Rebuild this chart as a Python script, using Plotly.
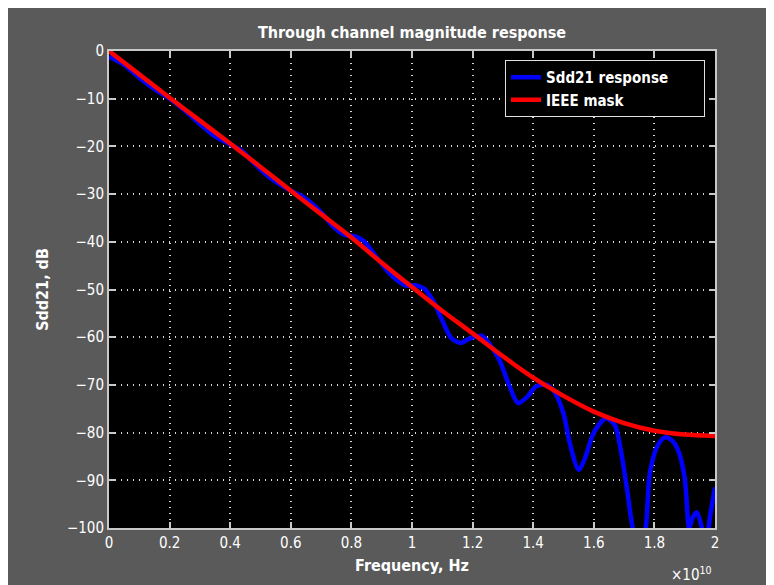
import plotly.graph_objects as go

# Frequency in units of 1e10 Hz
mask_f = [0.0, 0.1, 0.2, 0.3, 0.4, 0.5, 0.6, 0.7, 0.8, 0.9, 1.0, 1.1, 1.2, 1.3, 1.4, 1.5, 1.6, 1.7, 1.8, 1.9, 2.0]
mask_db = [0.0, -4.9, -9.8, -14.6, -19.4, -24.3, -29.3, -34.2, -39.1, -44.4, -49.5, -54.5, -59.2, -64.0, -68.5, -72.3, -75.6, -78.0, -79.6, -80.4, -80.7]

resp_f = [0.00, 0.05, 0.10, 0.15, 0.20, 0.25, 0.30, 0.35, 0.40, 0.44, 0.48, 0.52, 0.56, 0.60, 0.63,
          0.66, 0.70, 0.74, 0.78, 0.81, 0.84, 0.88, 0.92, 0.95, 0.98, 1.01, 1.04, 1.07, 1.10, 1.13,
          1.16, 1.19, 1.23, 1.26, 1.29, 1.32, 1.35, 1.38, 1.41, 1.445, 1.47, 1.50, 1.52, 1.55, 1.57,
          1.60, 1.64, 1.67, 1.69, 1.71, 1.73, 1.75, 1.77, 1.785, 1.81, 1.835, 1.86, 1.88, 1.90, 1.915,
          1.925, 1.94, 1.955, 1.97, 1.985, 2.00]
resp_db = [-1.2, -2.9, -5.6, -8.0, -10.0, -12.5, -15.3, -17.9, -19.6, -21.0, -23.6, -26.0, -27.8, -29.3, -30.2,
           -31.5, -33.8, -36.8, -38.6, -38.8, -39.8, -43.0, -46.2, -48.0, -49.2, -49.1, -49.8, -52.4, -56.5, -60.2,
           -61.2, -60.3, -59.7, -61.8, -65.0, -70.0, -73.8, -72.5, -70.3, -70.0, -71.5, -76.0, -82.0, -87.8, -85.5,
           -80.0, -77.0, -78.5, -84.0, -92.0, -100.5, -104.0, -100.5, -88.5, -82.8, -81.0, -81.8, -84.0, -89.5, -100.0,
           -98.0, -96.7, -99.5, -103.0, -97.0, -91.5]

x_ticks = [0, 0.2, 0.4, 0.6, 0.8, 1.0, 1.2, 1.4, 1.6, 1.8, 2.0]
x_labels = ["0", "0.2", "0.4", "0.6", "0.8", "1", "1.2", "1.4", "1.6", "1.8", "2"]
y_ticks = [0, -10, -20, -30, -40, -50, -60, -70, -80, -90, -100]
y_labels = ["0", "\u221210", "\u221220", "\u221230", "\u221240", "\u221250", "\u221260", "\u221270", "\u221280", "\u221290", "\u2212100"]

FONT = "DejaVu Sans Condensed, Liberation Sans Narrow, Liberation Sans, sans-serif"
GRAY = "#5a5a5a"
AX = "#c8c8c8"
GRID = "#d8d8d8"
PAD = "\u00a0" * 7

fig = go.Figure()
fig.add_trace(go.Scatter(x=resp_f, y=resp_db, mode="lines", name="<b>Sdd21 response</b>" + PAD,
                         line=dict(color="#0000ff", width=4.5, shape="spline", smoothing=0.8)))
fig.add_trace(go.Scatter(x=mask_f, y=mask_db, mode="lines", name="<b>IEEE mask</b>",
                         line=dict(color="#ff0000", width=4.5, shape="spline", smoothing=0.8)))

W, H = 774, 585
L, R, T, B = 101, 67, 43, 65
pw, ph = W - L - R, H - T - B

fig.update_layout(
    width=W, height=H,
    margin=dict(l=L, r=R, t=T, b=B, pad=0),
    paper_bgcolor=GRAY, plot_bgcolor="black",
    font=dict(family=FONT, color="white", size=14),
    title=dict(text="<b>Through channel magnitude response</b>", x=(L + pw / 2) / W, xanchor="center",
               y=1 - 24 / H, yanchor="middle", font=dict(size=16, color="white", family=FONT)),
    showlegend=True,
    legend=dict(x=(497 - L) / pw, y=1 - (52 - T) / ph, xanchor="left", yanchor="top",
                bgcolor="black", bordercolor="#e0e0e0", borderwidth=1,
                font=dict(size=15, color="white", family=FONT), tracegroupgap=0,
                itemwidth=30),
    annotations=[
        dict(text="\u00d710<sup>10</sup>", xref="paper", yref="paper", x=(706 - L) / pw,
             y=(H - B - 566) / ph, xanchor="right", yanchor="middle", showarrow=False,
             font=dict(size=15, color="white", family=FONT)),
    ],
)

fig.update_xaxes(range=[0, 2], tickvals=x_ticks, ticktext=x_labels,
                 showgrid=True, gridcolor=GRID, griddash="1px,5px", gridwidth=1.5,
                 showline=True, linecolor=AX, linewidth=2, mirror="ticks",
                 ticks="inside", ticklen=6, tickcolor=AX, tickwidth=1.5,
                 zeroline=False, tickfont=dict(size=15, color="white"),
                 title=dict(text="<b>Frequency, Hz</b>", font=dict(size=16, color="white"), standoff=9))
fig.update_yaxes(range=[-100, 0], tickvals=y_ticks, ticktext=y_labels,
                 showgrid=True, gridcolor=GRID, griddash="1px,5px", gridwidth=1.5,
                 showline=True, linecolor=AX, linewidth=2, mirror="ticks",
                 ticks="inside", ticklen=6, tickcolor=AX, tickwidth=1.5,
                 zeroline=False, tickfont=dict(size=15, color="white"),
                 title=dict(text="<b>Sdd21, dB</b>", font=dict(size=16, color="white"), standoff=14))

fig.write_html("out.html")
